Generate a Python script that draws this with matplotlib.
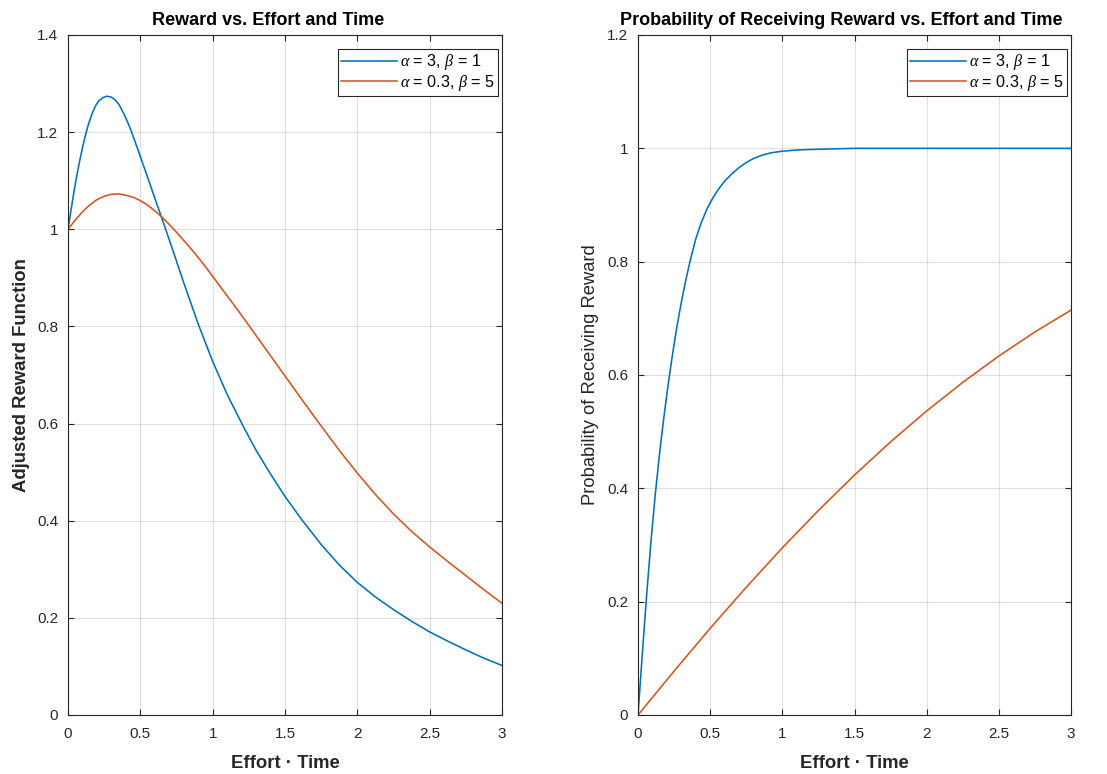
import matplotlib
matplotlib.use("Agg")
import matplotlib.pyplot as plt
from matplotlib.ticker import FuncFormatter

# ---- data ----
# Left: adjusted reward function
rew_blue_x = [0, 0.02, 0.04, 0.06, 0.08, 0.10, 0.12, 0.14, 0.165, 0.19, 0.212, 0.24, 0.27,
              0.30, 0.328, 0.356, 0.386, 0.413, 0.44, 0.47, 0.5, 0.53, 0.562, 0.6, 0.646,
              0.712, 0.8, 0.9, 1.0, 1.1, 1.21, 1.3, 1.4, 1.5, 1.616, 1.75, 1.875, 2.0, 2.125,
              2.25, 2.375, 2.5, 2.625, 2.75, 2.875, 3.0]
rew_blue_y = [1.0, 1.038, 1.075, 1.109, 1.14, 1.168, 1.193, 1.215, 1.237, 1.254, 1.264, 1.271,
              1.274, 1.272, 1.266, 1.255, 1.238, 1.22, 1.2, 1.175, 1.15, 1.124, 1.097, 1.064, 1.025,
              0.968, 0.89, 0.805, 0.728, 0.66, 0.595, 0.545, 0.496, 0.45, 0.402, 0.351, 0.309,
              0.273, 0.243, 0.217, 0.193, 0.171, 0.152, 0.134, 0.117, 0.102]
rew_orange_x = [0, 0.05, 0.1, 0.15, 0.2, 0.25, 0.3, 0.35, 0.4, 0.45, 0.5, 0.55, 0.6, 0.65,
                0.7, 0.75, 0.8, 0.85, 0.9, 0.95, 1.0, 1.0625, 1.125, 1.1875, 1.25, 1.375, 1.5,
                1.625, 1.75, 1.875, 2.0, 2.125, 2.25, 2.375, 2.5, 2.625, 2.75, 2.875, 3.0]
rew_orange_y = [1.0, 1.019, 1.036, 1.05, 1.061, 1.068, 1.072, 1.073, 1.07, 1.066, 1.059, 1.05,
                1.038, 1.025, 1.01, 0.994, 0.977, 0.96, 0.942, 0.923, 0.903, 0.878, 0.853, 0.828,
                0.802, 0.75, 0.698, 0.646, 0.595, 0.545, 0.498, 0.454, 0.414, 0.378, 0.346,
                0.316, 0.287, 0.258, 0.23]

# Right: probability of receiving reward
prob_blue_x = [0, 0.03, 0.06, 0.09, 0.12, 0.15, 0.18, 0.21, 0.24, 0.27, 0.30, 0.33, 0.36,
               0.40, 0.44, 0.48, 0.52, 0.56, 0.60, 0.65, 0.70, 0.75, 0.80, 0.86, 0.92, 1.0,
               1.1, 1.2, 1.35, 1.5, 2.0, 2.5, 3.0]
prob_blue_y = [0, 0.108, 0.212, 0.307, 0.39, 0.463, 0.527, 0.585, 0.638, 0.686, 0.728, 0.766,
               0.8, 0.84, 0.87, 0.894, 0.913, 0.929, 0.942, 0.955, 0.966, 0.975, 0.982, 0.988,
               0.992, 0.995, 0.997, 0.998, 0.999, 1.0, 1.0, 1.0, 1.0]
prob_orange_x = [0, 0.25, 0.5, 0.75, 1.0, 1.25, 1.5, 1.75, 2.0, 2.25, 2.5, 2.75, 3.0]
prob_orange_y = [0, 0.0775, 0.153, 0.2255, 0.295, 0.361, 0.4235, 0.482, 0.5365, 0.587,
                 0.6335, 0.676, 0.7145]

labels = [r'$\alpha$ = 3, $\beta$ = 1', r'$\alpha$ = 0.3, $\beta$ = 5']
x_ticks = [0, 0.5, 1, 1.5, 2, 2.5, 3]
left_yticks = [0, 0.2, 0.4, 0.6, 0.8, 1.0, 1.2, 1.4]
right_yticks = [0, 0.2, 0.4, 0.6, 0.8, 1.0, 1.2]

BLUE = '#0072BD'
ORANGE = '#D95319'
DARK = '#262626'

plt.rcParams['font.family'] = ['Liberation Sans', 'DejaVu Sans']
plt.rcParams['mathtext.fontset'] = 'custom'
plt.rcParams['mathtext.it'] = 'Liberation Serif:italic'
plt.rcParams['mathtext.rm'] = 'Liberation Sans'

W, H = 1107, 774
fig = plt.figure(figsize=(W / 100, H / 100), dpi=100)
ax1 = fig.add_axes([68 / W, 59 / H, 434 / W, 680 / H])
ax2 = fig.add_axes([638 / W, 59 / H, 433 / W, 680 / H])

fmt = FuncFormatter(lambda v, p: ('%g' % round(v, 6)))

def style(ax, yticks, ylim):
    ax.set_xlim(0, 3)
    ax.set_ylim(*ylim)
    ax.set_xticks(x_ticks)
    ax.set_yticks(yticks)
    ax.xaxis.set_major_formatter(fmt)
    ax.yaxis.set_major_formatter(fmt)
    ax.grid(True, color='#000000', alpha=0.12, linewidth=0.8)
    ax.set_axisbelow(True)
    ax.tick_params(direction='in', top=True, right=True, length=4, width=0.8,
                   colors=DARK, labelsize=11)
    ax.tick_params(axis='x', pad=9)
    ax.tick_params(axis='y', pad=7)
    for s in ax.spines.values():
        s.set_color(DARK)
        s.set_linewidth(0.8)

ax1.plot(rew_blue_x, rew_blue_y, color=BLUE, lw=1.15, label=labels[0])
ax1.plot(rew_orange_x, rew_orange_y, color=ORANGE, lw=1.15, label=labels[1])
style(ax1, left_yticks, (0, 1.4))
t1 = ax1.set_title('Reward vs. Effort and Time', fontsize=13, fontweight='bold',
                   color='#000000', pad=7)
t1.set_x(0.46)
ax1.set_xlabel('Effort · Time', fontsize=13.3, fontweight='bold', color=DARK, labelpad=10)
ax1.set_ylabel('Adjusted Reward Function', fontsize=13.3, fontweight='bold', color=DARK, labelpad=5)

ax2.plot(prob_blue_x, prob_blue_y, color=BLUE, lw=1.15, label=labels[0])
ax2.plot(prob_orange_x, prob_orange_y, color=ORANGE, lw=1.15, label=labels[1])
style(ax2, right_yticks, (0, 1.2))
t2 = ax2.set_title('Probability of Receiving Reward vs. Effort and Time', fontsize=13,
                   fontweight='bold', color='#000000', pad=7)
t2.set_x(0.47)
ax2.set_xlabel('Effort · Time', fontsize=13.3, fontweight='bold', color=DARK, labelpad=10)
ax2.set_ylabel('Probability of Receiving Reward', fontsize=13.2, color=DARK, labelpad=6)

for ax, right_px in ((ax1, 498), (ax2, 1067)):
    leg = ax.legend(loc='upper right', bbox_to_anchor=(right_px / W, (H - 49) / H),
                    bbox_transform=fig.transFigure, fontsize=11.6, frameon=True,
                    fancybox=False, handlelength=3.5, handletextpad=0.15, borderpad=0.2,
                    labelspacing=0.02, borderaxespad=0, edgecolor=DARK)
    leg.get_frame().set_linewidth(0.8)
    leg.get_frame().set_facecolor('white')
    leg.get_frame().set_alpha(1)

fig.savefig('out.png', dpi=100, facecolor='white')
